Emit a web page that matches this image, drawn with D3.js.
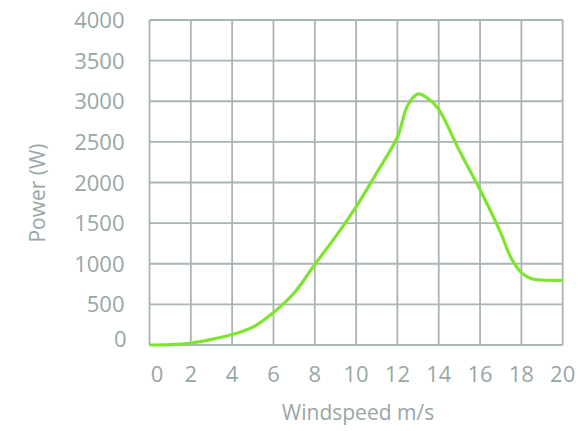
<!DOCTYPE html>
<html><head><meta charset="utf-8">
<script src="https://cdn.jsdelivr.net/npm/d3@7"></script>
<style>html,body{margin:0;padding:0;background:#fff;}</style>
</head><body>
<svg id="chart" width="583" height="431"></svg>
<script>
const windspeed = [0, 1, 2, 3, 4, 5, 6, 7, 8, 9, 10, 11, 12, 12.5, 13, 13.5, 14, 15, 16, 17, 17.5, 18, 18.5, 19, 20];
const power     = [0, 5, 25, 70, 130, 220, 400, 640, 990, 1330, 1700, 2120, 2560, 2950, 3090, 3030, 2900, 2390, 1910, 1380, 1070, 890, 815, 800, 795];
const xTicks = [0, 2, 4, 6, 8, 10, 12, 14, 16, 18, 20];
const yTicks = [0, 500, 1000, 1500, 2000, 2500, 3000, 3500, 4000];
const xTitle = "Windspeed m/s";
const yTitle = "Power (W)";

const textColor = "#98a7a7", gridColor = "#a9b5b5", lineColor = "#7ee52e";
const font = "'Open Sans', sans-serif";
const svg = d3.select("#chart");
const x = d3.scaleLinear().domain([0, 20]).range([149.5, 562.7]);
const y = d3.scaleLinear().domain([0, 4000]).range([345, 20]);

const g = svg.append("g");
g.selectAll("line.v").data(xTicks).join("line")
  .attr("x1", d => x(d)).attr("x2", d => x(d))
  .attr("y1", y(0)).attr("y2", y(4000))
  .attr("stroke", gridColor).attr("stroke-width", 1.8);
g.selectAll("line.h").data(yTicks).join("line")
  .attr("y1", d => y(d)).attr("y2", d => y(d))
  .attr("x1", x(0)).attr("x2", x(20))
  .attr("stroke", gridColor).attr("stroke-width", 1.8);

g.selectAll("text.xt").data(xTicks).join("text")
  .attr("x", d => x(d) + (d === 0 ? 7.5 : 0))
  .attr("y", 381.5)
  .attr("text-anchor", "middle")
  .attr("font-family", font).attr("font-size", 22).attr("fill", textColor)
  .text(d => d);
g.selectAll("text.yt").data(yTicks).join("text")
  .attr("x", d => d === 0 ? 126.5 : 124.5)
  .attr("y", d => y(d) + 8 - (d === 0 ? 6 : 0))
  .attr("text-anchor", "end")
  .attr("font-family", font).attr("font-size", 22).attr("fill", textColor)
  .text(d => d);

svg.append("text").attr("x", 358).attr("y", 419.5).attr("text-anchor", "middle")
  .attr("font-family", font).attr("font-size", 21).attr("fill", textColor).text(xTitle);
svg.append("text").attr("transform", "translate(45,193) rotate(-90)").attr("text-anchor", "middle")
  .attr("font-family", font).attr("font-size", 21).attr("fill", textColor).text(yTitle);

const line = d3.line().x((d, i) => x(windspeed[i])).y(d => y(d)).curve(d3.curveCatmullRom.alpha(0.5));
svg.append("path").datum(power).attr("d", line)
  .attr("fill", "none").attr("stroke", lineColor).attr("stroke-width", 3.2)
  .attr("stroke-linejoin", "round").attr("stroke-linecap", "butt");
</script>
</body></html>
